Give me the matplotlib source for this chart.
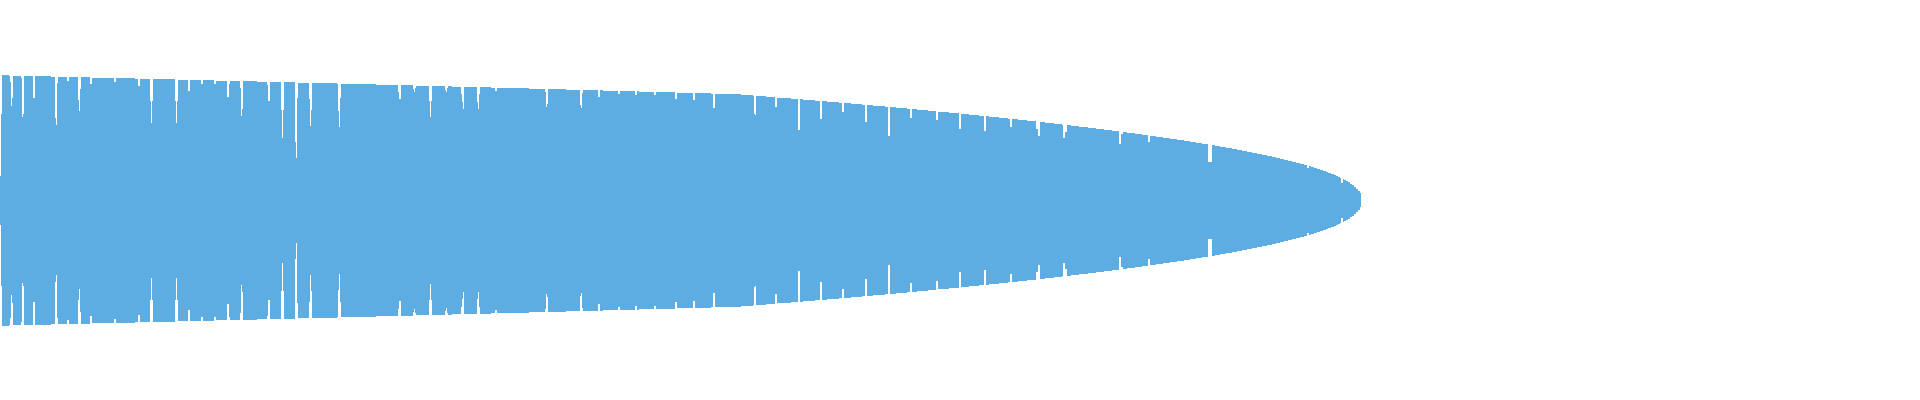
import numpy as np
import matplotlib
matplotlib.use("Agg")
import matplotlib.pyplot as plt

# waveform style bars, mirrored around zero
# each segment: first category index where a value starts, and that value
seg_start = [
    0, 1, 2, 9, 10, 11, 12, 13, 21, 22, 23, 24, 33, 35, 51, 55, 56, 57, 58, 67,
    69, 78, 79, 80, 81, 90, 92, 114, 116, 135, 138, 140, 150, 151, 152, 153, 175, 176, 177, 178,
    188, 190, 201, 203, 214, 216, 227, 229, 230, 240, 241, 242, 243, 257, 267, 268, 270, 281, 282, 283,
    284, 295, 296, 297, 298, 309, 310, 311, 312, 337, 338, 339,
    340, 341, 376, 398, 399, 401, 413, 414, 415, 416, 429, 430, 431, 432, 445, 446, 447, 448,
    452, 461, 462, 463, 464, 477, 478, 479, 480, 491, 495, 497, 529, 545, 546, 547, 548, 566,
    580, 581, 582, 583, 598, 600, 603, 618, 620, 635, 637, 639, 654, 656, 675, 677,
    680, 693, 695, 711, 713, 715, 741, 753, 754, 755, 756, 766, 775, 777, 791, 798, 800, 803,
    815, 820, 822, 827, 839, 842, 844, 851, 862, 865, 867, 873, 885, 888, 890, 896, 907, 910,
    912, 917, 928, 936, 938, 949, 959, 961, 969, 979, 984, 986, 989, 999, 1008, 1010, 1012, 1018,
    1027, 1036, 1038, 1040, 1045, 1054, 1062, 1063, 1065, 1067, 1071, 1079, 1088, 1096, 1104, 1112,
    1119, 1121, 1123, 1127, 1135, 1142, 1148, 1150, 1156, 1163, 1170, 1177, 1184, 1190, 1196, 1202,
    1208, 1212, 1215, 1220, 1226, 1232, 1237, 1242, 1247, 1252, 1257, 1262, 1267, 1272, 1276, 1280,
    1284, 1288, 1292, 1296, 1300, 1304, 1307, 1309, 1311, 1314, 1317, 1320, 1323, 1326, 1328, 1331,
    1334, 1336, 1338, 1340, 1341, 1343, 1344, 1346, 1348, 1350, 1352, 1354, 1356, 1358, 1360,
]
seg_value = [
    24.5, 86, 125.5, 124.5, 118, 94.5, 102.5, 124.5, 122, 83, 86, 124.5, 102, 124.5, 123.5, 82, 75, 117.5, 123.5, 119.5,
    123.5, 100, 89, 111.5, 123.5, 116, 122.5, 118.5, 122.5, 121.5, 114.5, 121.5, 99.5, 77.5, 99.5, 121.5, 99.5, 77.5, 99.5, 120.5,
    109.5, 120.5, 116.5, 120.5, 116.5, 119.5, 103.5, 116.5, 119.5, 112.5, 84.5, 91.5, 119.5, 118.5, 115.5, 99.5, 118.5, 90.5, 62.5, 90.5,
    118.5, 58.5, 42.5, 102.5, 117.5, 101.5, 74.5, 90.5, 117.5, 116.5, 89.5, 73.5,
    102, 116.5, 115.5, 108.5, 101, 115.5, 111.5, 108.5, 112.5, 114.5, 99.5, 83.5, 99.5, 114.5, 110.5, 108, 112.5, 114.5,
    113.5, 106.5, 98.5, 91.5, 113.5, 98.5, 91.5, 106.5, 113.5, 112.5, 109.5, 112.5, 111.5, 108.5, 93.5, 96.5, 111.5, 110.5,
    95.5, 92.5, 107.5, 110.5, 103.5, 110.5, 109.5, 106.5, 109.5, 105.5, 109.5, 108.5, 105.5, 108.5, 101.5, 107.5,
    107.5, 100.5, 107.5, 106.5, 92.5, 106.5, 105.5, 104.5, 86.5, 85.5, 104.5, 103.5, 93.5, 102.5, 101.5, 70.5, 101.5, 100.5,
    99.5, 81.5, 99.5, 98.5, 97.5, 88.5, 97.5, 96.5, 95.5, 78.5, 95.5, 94.5, 93.5, 64.5, 93.5, 92.5, 91.5, 82.5,
    91.5, 90.5, 89.5, 80.5, 88.5, 87.5, 71.5, 86.5, 85.5, 84.5, 69.5, 84.5, 83.5, 82.5, 81.5, 73.5, 81.5, 80.5,
    79.5, 71.5, 64.5, 78.5, 77.5, 76.5, 75.5, 62.5, 68.5, 75.5, 74.5, 73.5, 72.5, 71.5, 70.5, 69.5,
    56.5, 66.5, 68.5, 67.5, 66.5, 65.5, 58.5, 64.5, 63.5, 62.5, 61.5, 60.5, 59.5, 58.5, 57.5, 56.5,
    38.5, 55.5, 54.5, 53.5, 52.5, 51.5, 50.5, 49.5, 48.5, 47.5, 46.5, 45.5, 44.5, 43.5, 42.5, 41.5,
    40.5, 39.5, 38.5, 37.5, 36.5, 35.5, 32.5, 34.5, 33.5, 32.5, 31.5, 30.5, 29.5, 28.5, 27.5, 26.5,
    25.5, 24.5, 23.5, 22.5, 17.5, 21.5, 20.5, 19.5, 18.5, 16.5, 15.5, 13.5, 11.5, 9.5, 7,
]
n_items = 1361

lengths = np.diff(seg_start + [n_items])
values = np.repeat(seg_value, lengths)
idx = np.arange(n_items)

fig = plt.figure(figsize=(19.2, 4), dpi=100)
ax = fig.add_axes([0, 0, 1, 1])
ax.bar(idx, 2 * values, bottom=-values, width=1.0, align="edge",
       color="#5dade2", linewidth=0, antialiased=False)
ax.set_xlim(0, 1920)
ax.set_ylim(-200, 200)
ax.axis("off")

fig.savefig("out.png", dpi=100, facecolor="white")
